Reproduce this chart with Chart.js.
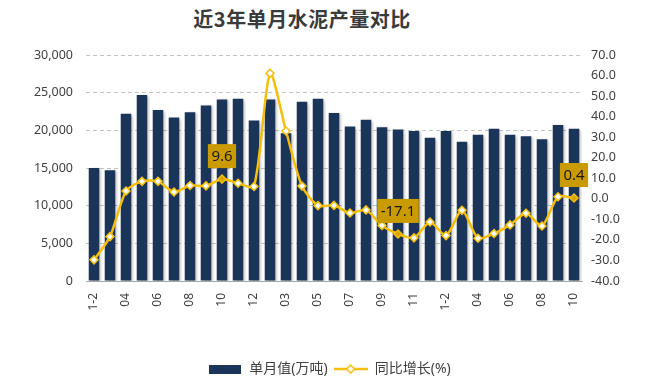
<!DOCTYPE html>
<html>
<head>
<meta charset="utf-8">
<script src="https://cdn.jsdelivr.net/npm/chart.js@4"></script>
<style>
  html, body { margin: 0; padding: 0; background: #fff; }
  #wrap { position: relative; width: 659px; height: 388px; }
  #title {
    position: absolute; left: 0; top: 4px; width: 604px; text-align: center;
    font: bold 20px "Noto Sans CJK SC", sans-serif; color: #3a3a3a; letter-spacing: 0.5px;
  }
  canvas { position: absolute; left: 0; top: 0; }
</style>
</head>
<body>
<div id="wrap">
  <div id="title">近3年单月水泥产量对比</div>
  <canvas id="chart" width="659" height="388"></canvas>
</div>
<script>
const months = ['1-2', '03', '04', '05', '06', '07', '08', '09', '10', '11', '12',
  '1-2', '03', '04', '05', '06', '07', '08', '09', '10', '11', '12',
  '1-2', '03', '04', '05', '06', '07', '08', '09', '10']

// 单月值(万吨)
const output = [15000, 14700, 22200, 24700, 22700, 21700, 22400, 23300, 24100, 24200, 21300,
  24100, 19600, 23800, 24200, 22300, 20500, 21400, 20400, 20100, 19900, 19000,
  19900, 18500, 19400, 20200, 19400, 19200, 18800, 20700, 20200]

// 同比增长(%)
const growth = [-29.7, -18.4, 3.8, 8.5, 8.5, 3.3, 6.5, 6.3, 9.6, 7.6, 6.0,
  61.1, 33.0, 6.2, -3.3, -3.2, -6.9, -5.4, -13.0, -17.1, -19.0, -11.3,
  -17.9, -5.6, -19.2, -16.9, -12.7, -7.0, -13.2, 1.0, 0.4]

const labelledPoints = [8, 19, 30]

const navy = '#1B355A'
const gold = '#F5BE0B'
const labelGold = '#C99B00'
const font = '"Noto Sans", "Noto Sans CJK SC", sans-serif'

function barIcon () {
  const c = document.createElement('canvas')
  c.width = 32; c.height = 9
  const g = c.getContext('2d')
  g.fillStyle = navy
  g.fillRect(0, 0, 32, 9)
  return c
}

function lineIcon () {
  const c = document.createElement('canvas')
  c.width = 34; c.height = 10
  const g = c.getContext('2d')
  g.strokeStyle = gold
  g.lineWidth = 2.5
  g.beginPath()
  g.moveTo(0, 5)
  g.lineTo(34, 5)
  g.stroke()
  g.beginPath()
  g.moveTo(17, 1); g.lineTo(21, 5); g.lineTo(17, 9); g.lineTo(13, 5); g.closePath()
  g.fillStyle = '#fff'
  g.fill()
  g.lineWidth = 1.5
  g.stroke()
  return c
}

const barShadow = {
  id: 'barShadow',
  beforeDatasetDraw (chart, args) {
    if (args.index !== 0) return
    const ctx = chart.ctx
    ctx.save()
    ctx.shadowColor = 'rgba(0,0,0,0.28)'
    ctx.shadowOffsetX = 2
    ctx.shadowOffsetY = 1
    ctx.shadowBlur = 3
  },
  afterDatasetDraw (chart, args) {
    if (args.index === 0) chart.ctx.restore()
  }
}

const pointLabels = {
  id: 'pointLabels',
  afterDatasetsDraw (chart) {
    const ctx = chart.ctx
    const meta = chart.getDatasetMeta(1)
    ctx.save()
    ctx.font = '15px ' + font
    ctx.textAlign = 'center'
    ctx.textBaseline = 'middle'
    labelledPoints.forEach(i => {
      const p = meta.data[i]
      const text = growth[i].toFixed(1)
      const w = ctx.measureText(text).width + 7
      const h = 24
      const cy = p.y - 23
      ctx.fillStyle = labelGold
      ctx.fillRect(p.x - w / 2, cy - h / 2, w, h)
      ctx.fillStyle = '#1a1a1a'
      ctx.fillText(text, p.x, cy + 1)
    })
    ctx.restore()
  }
}

new Chart(document.getElementById('chart'), {
  data: {
    labels: months,
    datasets: [{
      type: 'bar',
      label: '单月值(万吨)',
      data: output,
      backgroundColor: navy,
      yAxisID: 'y',
      categoryPercentage: 1,
      barPercentage: 0.66,
      order: 2
    }, {
      type: 'line',
      label: '同比增长(%)',
      data: growth,
      borderColor: gold,
      borderWidth: 2.5,
      tension: 0.25,
      pointStyle: 'rectRot',
      pointRadius: 4,
      pointBorderWidth: 1.5,
      pointBorderColor: gold,
      pointBackgroundColor: growth.map((v, i) => labelledPoints.includes(i) ? '#D9A400' : '#fff'),
      yAxisID: 'y1',
      order: 1
    }]
  },
  options: {
    responsive: false,
    animation: false,
    layout: { padding: { top: 55, bottom: 2, left: 0, right: 0 } },
    plugins: {
      title: { display: false },
      tooltip: { enabled: false },
      legend: {
        position: 'bottom',
        labels: {
          usePointStyle: true,
          pointStyleWidth: 34,
          padding: 6,
          color: '#404040',
          font: { size: 14, family: font },
          generateLabels: () => [
            { text: '单月值(万吨)', pointStyle: barIcon(), fontColor: '#404040', lineWidth: 0, strokeStyle: 'transparent', fillStyle: navy },
            { text: '同比增长(%)', pointStyle: lineIcon(), fontColor: '#404040', lineWidth: 0, strokeStyle: 'transparent', fillStyle: gold }
          ]
        }
      }
    },
    scales: {
      x: {
        afterFit: s => { s.height = 75 },
        grid: { display: false },
        border: { color: '#A6A6A6', width: 1 },
        ticks: {
          autoSkip: false,
          maxRotation: 90,
          minRotation: 90,
          padding: 4,
          color: '#404040',
          font: { size: 12, family: font },
          callback: (v, i) => i % 2 === 0 ? months[i] : ''
        }
      },
      y: {
        position: 'left',
        min: 0,
        max: 30000,
        afterFit: s => { s.width = 86 },
        border: { display: false, dash: [4, 3] },
        grid: { color: '#C4C4C4', drawTicks: false },
        ticks: {
          stepSize: 5000,
          padding: 13,
          color: '#404040',
          font: { size: 12.5, family: font },
          callback: v => v.toLocaleString('en-US')
        }
      },
      y1: {
        position: 'right',
        min: -40,
        max: 70,
        afterFit: s => { s.width = 77 },
        border: { display: false },
        grid: { display: false, drawTicks: false },
        ticks: {
          stepSize: 10,
          padding: 9,
          color: '#404040',
          font: { size: 12.5, family: font },
          callback: v => v.toFixed(1)
        }
      }
    }
  },
  plugins: [barShadow, pointLabels]
})
</script>
</body>
</html>
